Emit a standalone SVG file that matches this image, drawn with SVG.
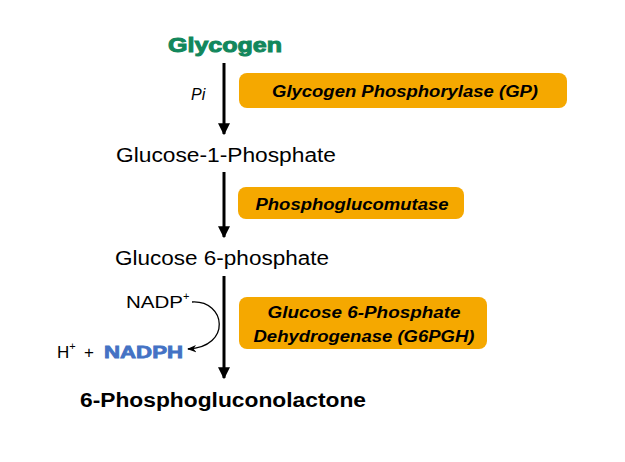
<svg xmlns="http://www.w3.org/2000/svg" width="625" height="462" viewBox="0 0 625 462">
<defs>
<style>
text{font-family:"Liberation Sans",Arial,sans-serif;fill:#000}
.box{fill:#f5a800}
.enz{font-weight:bold;font-style:italic;font-size:16px;text-anchor:middle}
.met{font-size:20px}
.flow{stroke:#000;stroke-width:3;fill:none}
</style>
<marker id="ah" viewBox="0 0 10 10" refX="9" refY="5" markerWidth="4" markerHeight="4" orient="auto" markerUnits="strokeWidth"><path d="M0,0 L10,5 L0,10 z" fill="#000"/></marker>
<marker id="ah2" viewBox="0 0 10 10" refX="9" refY="5" markerWidth="7" markerHeight="7" orient="auto" markerUnits="strokeWidth"><path d="M0,1 L10,5 L0,9 L3,5 z" fill="#000"/></marker>
</defs>
<rect width="625" height="462" fill="#fff"/>
<g id="glycogen"><text x="168" y="52" font-size="21" font-weight="bold" fill="#12875c" style="fill:#12875c" stroke="#12875c" stroke-width="1" textLength="114" lengthAdjust="spacingAndGlyphs">Glycogen</text></g>
<g id="g1p"><text class="met" x="116" y="162" textLength="220" lengthAdjust="spacingAndGlyphs">Glucose-1-Phosphate</text></g>
<g id="g6p"><text class="met" x="115" y="265" textLength="214" lengthAdjust="spacingAndGlyphs">Glucose 6-phosphate</text></g>
<g id="pgl"><text x="80" y="407" font-size="20" font-weight="bold" textLength="286" lengthAdjust="spacingAndGlyphs">6-Phosphogluconolactone</text></g>
<g id="enzyme-gp"><rect class="box" x="239" y="73" width="328" height="35" rx="8"/><text class="enz" x="405" y="97" textLength="266" lengthAdjust="spacingAndGlyphs">Glycogen Phosphorylase (GP)</text></g>
<g id="enzyme-pgm"><rect class="box" x="238" y="187" width="226" height="32" rx="8"/><text class="enz" x="352" y="210" textLength="193" lengthAdjust="spacingAndGlyphs">Phosphoglucomutase</text></g>
<g id="enzyme-g6pdh"><rect class="box" x="239" y="297" width="248" height="52" rx="8"/><text class="enz" x="364" y="318" textLength="193" lengthAdjust="spacingAndGlyphs">Glucose 6-Phosphate</text><text class="enz" x="364" y="342" textLength="221" lengthAdjust="spacingAndGlyphs">Dehydrogenase (G6PGH)</text></g>
<g id="pi"><text x="191" y="100" font-size="16" font-style="italic">Pi</text></g>
<g id="nadp"><text x="126" y="308" font-size="17"><tspan textLength="57" lengthAdjust="spacingAndGlyphs">NADP</tspan><tspan font-size="11" dy="-8">+</tspan></text></g>
<g id="nadph"><text x="57" y="358" font-size="17">H<tspan font-size="11" dy="-8">+</tspan><tspan x="84" dy="8">+</tspan></text><text x="104" y="358" font-size="17" font-weight="bold" style="fill:#4472c4" stroke="#4472c4" stroke-width="0.8" textLength="79" lengthAdjust="spacingAndGlyphs">NADPH</text></g>
<g id="connectors">
<line class="flow" x1="224" y1="63" x2="224" y2="134" marker-end="url(#ah)"/>
<line class="flow" x1="224" y1="172" x2="224" y2="237" marker-end="url(#ah)"/>
<line class="flow" x1="224" y1="276" x2="224" y2="378" marker-end="url(#ah)"/>
<path d="M192,302 C226,300 232,347 188,349" fill="none" stroke="#000" stroke-width="1.3" marker-end="url(#ah2)"/>
</g>
</svg>
